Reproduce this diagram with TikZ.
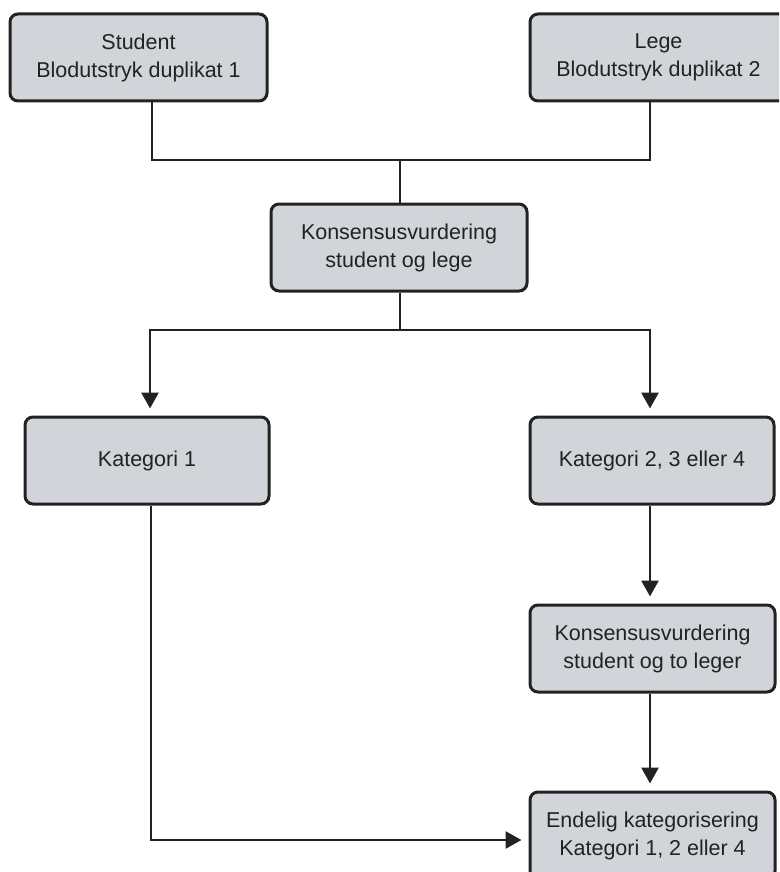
\documentclass[tikz,border=0pt]{standalone}
\usepackage{fontspec}
\setmainfont{Liberation Sans}
\usetikzlibrary{arrows.meta,calc}
\definecolor{boxfill}{HTML}{D1D4D8}
\definecolor{ink}{HTML}{222222}
\tikzset{
  flowbox/.style={draw=ink, fill=boxfill, line width=3pt, rounded corners=8pt,
    inner sep=0pt, align=center, font=\fontsize{21.5}{28}\selectfont, text=ink},
  conn/.style={draw=ink, line width=2.8pt},
  arr/.style={conn, -{Triangle[length=16pt,width=17pt]}, shorten >=7pt},
}
\begin{document}
\begin{tikzpicture}[x=1pt,y=-1pt]
\useasboundingbox (0,0) rectangle (779,872);
\clip (0,0) rectangle (779,872);
% boxes
\node[flowbox, minimum width=257pt, minimum height=87pt] (b1) at (138.5,57.5) {Student\\Blodutstryk duplikat 1};
\node[flowbox, minimum width=257pt, minimum height=87pt] (b2) at (658.5,57.5) {Lege\\Blodutstryk duplikat 2};
\node[flowbox, minimum width=256pt, minimum height=87pt] (b3) at (399,247.5) {Konsensusvurdering\\student og lege};
\node[flowbox, minimum width=244pt, minimum height=87pt] (b4) at (147,460.5) {Kategori 1};
\node[flowbox, minimum width=244pt, minimum height=87pt] (b5) at (652,460.5) {Kategori 2, 3 eller 4};
\node[flowbox, minimum width=245pt, minimum height=87pt] (b6) at (652.5,648.5) {Konsensusvurdering\\student og to leger};
\node[flowbox, minimum width=245pt, minimum height=87pt] (b7) at (652.5,835.5) {Endelig kategorisering\\Kategori 1, 2 eller 4};
% junction coordinates
\coordinate (j1) at (152,160);
\coordinate (j2) at (650,160);
\coordinate (j3) at (400,160);
\coordinate (k1) at (150,330);
\coordinate (k2) at (650,330);
\coordinate (k3) at (400,330);
\coordinate (m1) at (151,840);
% connectors
\draw[conn, line join=miter] (b1.south -| j1) -- (j1) -- (j2) -- (b2.south -| j2);
\draw[conn] (j3) -- (b3.north -| j3);
\draw[conn] (b3.south -| k3) -- (k3);
\draw[arr, line join=miter] (k3) -- (k1) -- (b4.north -| k1);
\draw[arr, line join=miter] (k3) -- (k2) -- (b5.north -| k2);
\draw[arr] (b5.south -| k2) -- (b6.north -| k2);
\draw[arr] (b6.south -| k2) -- (b7.north -| k2);
\draw[arr, line join=miter] (b4.south -| m1) -- (m1) -- (b7.west |- m1);
\end{tikzpicture}
\end{document}
